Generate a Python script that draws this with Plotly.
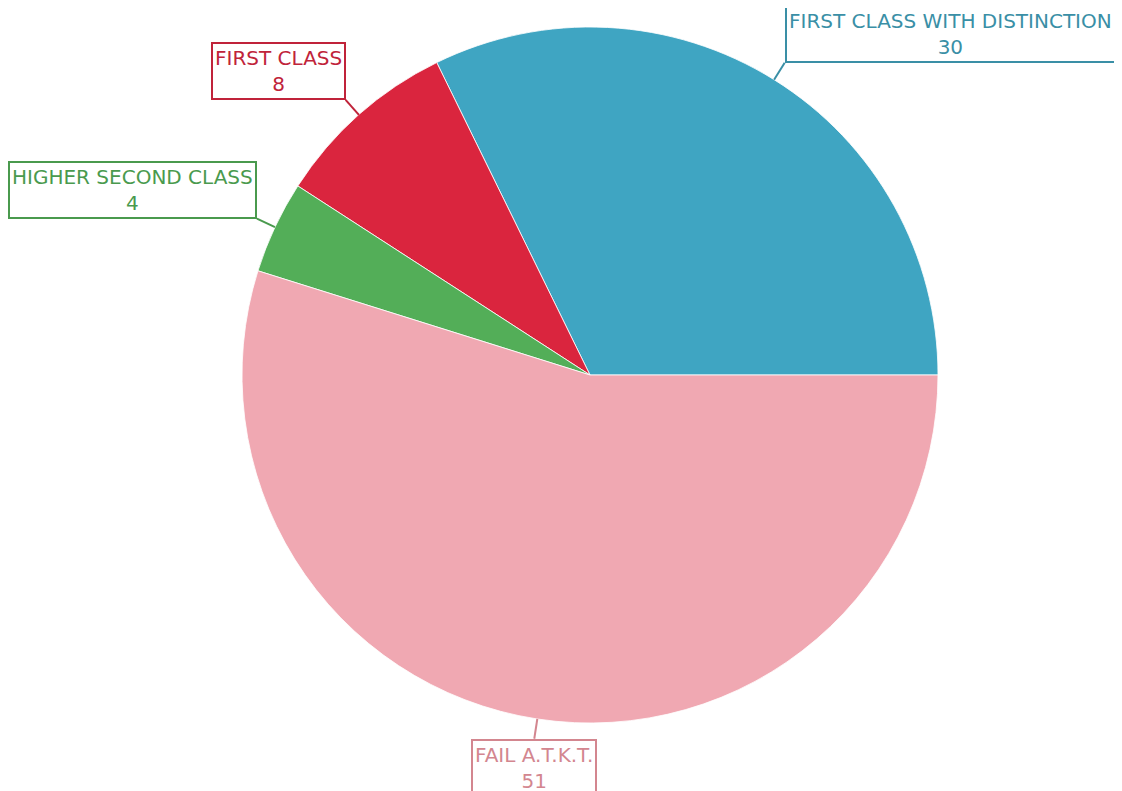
import math
import plotly.graph_objects as go

labels = ["FIRST CLASS WITH DISTINCTION", "FIRST CLASS", "HIGHER SECOND CLASS", "FAIL A.T.K.T."]
values = [30, 8, 4, 51]
slice_colors = ["#3fa5c2", "#da253e", "#53ae58", "#f0a8b2"]
label_colors = ["#3a8fa6", "#c0233a", "#4a9a4e", "#d3868f"]

W, H = 1122, 791
OFF = 8  # page body margin
CX, CY, R = 590 - OFF, 375 - OFF, 348  # pie centre / radius in pixels (layout)
FONT = "DejaVu Sans"
FS = 20

total = sum(values)
first_span = values[0] / total * 360
# plotly counterclockwise: first slice ends at `rotation`; shift so it starts at 3 o'clock
rotation = 90 - first_span

fig = go.Figure(go.Pie(
    labels=labels, values=values, sort=False, direction="counterclockwise",
    rotation=rotation, textinfo="none", hoverinfo="label+value",
    marker=dict(colors=slice_colors, line=dict(color="rgba(255,255,255,0.8)", width=1)),
    domain=dict(x=[(CX - R) / W, (CX + R) / W], y=[(H - CY - R) / H, (H - CY + R) / H]),
    showlegend=False,
))

def px(x, y):
    return x / W, 1 - y / H

start = 0.0
shapes, annotations = [], []
for lab, val, lc in zip(labels, values, label_colors):
    span = val / total * 360
    mid = math.radians(start + span / 2)
    start += span
    c, s = math.cos(mid), math.sin(mid)
    ex, ey = CX + R * c, CY - R * s
    lx, ly = CX + (R + 20) * c, CY - (R + 20) * s
    x0, y0 = px(ex, ey)
    x1, y1 = px(lx, ly)
    shapes.append(dict(type="line", xref="paper", yref="paper", x0=x0, y0=y0, x1=x1, y1=y1,
                       line=dict(color=lc, width=2)))
    if abs(c) < 0.3:
        xa = "center"
    else:
        xa = "left" if c > 0 else "right"
    ya = "bottom" if s > 0 else "top"
    annotations.append(dict(
        xref="paper", yref="paper", x=x1, y=y1, xanchor=xa, yanchor=ya,
        text=f"{lab}<br>{val}", showarrow=False, align="center",
        font=dict(family=FONT, size=FS, color=lc),
        bordercolor=lc, borderwidth=2, borderpad=2, bgcolor="white",
    ))

fig.update_layout(
    width=W, height=H, margin=dict(l=0, r=0, t=0, b=0),
    paper_bgcolor="white", plot_bgcolor="white",
    shapes=shapes, annotations=annotations,
)
fig.write_html("out.html")
